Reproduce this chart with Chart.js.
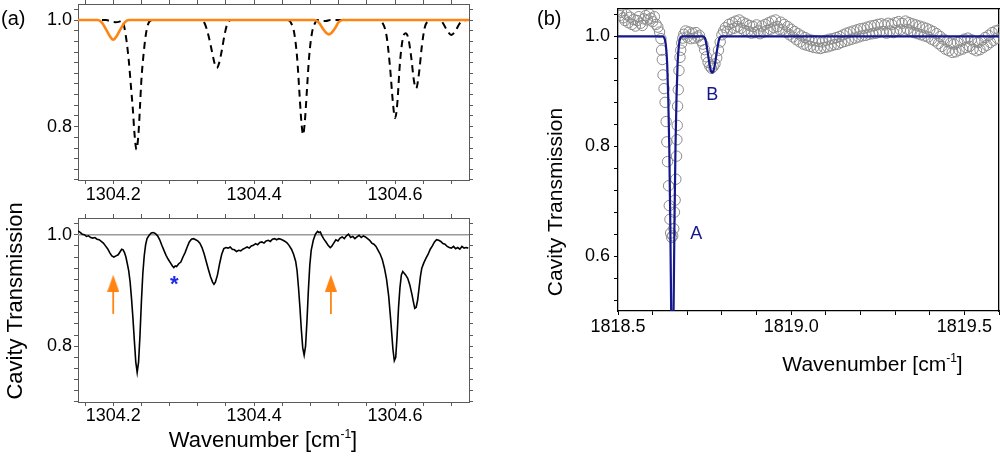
<!DOCTYPE html>
<html><head><meta charset="utf-8">
<script src="https://cdn.jsdelivr.net/npm/chart.js@4.4.0/dist/chart.umd.min.js"></script>
<style>
html,body{margin:0;padding:0;background:#fff;width:1000px;height:456px;overflow:hidden;position:relative}
canvas{position:absolute}
#cA{left:0;top:0}#cB{left:0;top:195px}#cC{left:520px;top:0}
</style></head><body>
<canvas id="cA" width="480" height="215"></canvas>
<canvas id="cB" width="480" height="261"></canvas>
<canvas id="cC" width="480" height="456"></canvas>
<script>
// ---------- DATA ----------
// panel (a) top: simulated spectra [wavenumber, transmission]
const simDashed = [[1304.150,1.000],[1304.190,1.000],[1304.197,0.997],[1304.203,0.996],[1304.209,0.997],[1304.213,0.999],[1304.216,0.985],[1304.219,0.960],[1304.222,0.925],[1304.225,0.878],[1304.228,0.830],[1304.230,0.790],[1304.233,0.757],[1304.236,0.790],[1304.238,0.838],[1304.240,0.888],[1304.243,0.935],[1304.246,0.970],[1304.249,0.990],[1304.253,0.999],[1304.258,1.000],
[1304.325,1.000],[1304.330,0.993],[1304.335,0.972],[1304.340,0.942],[1304.344,0.918],[1304.347,0.910],[1304.350,0.918],[1304.354,0.942],[1304.358,0.972],[1304.362,0.993],[1304.367,1.000],
[1304.448,1.000],[1304.453,0.993],[1304.457,0.975],[1304.461,0.930],[1304.464,0.870],[1304.467,0.810],[1304.4695,0.785],[1304.472,0.810],[1304.475,0.870],[1304.478,0.930],[1304.482,0.975],[1304.486,0.993],[1304.490,1.000],[1304.496,0.998],[1304.502,0.998],[1304.508,1.000],
[1304.575,1.000],[1304.582,0.995],[1304.588,0.970],[1304.593,0.910],[1304.597,0.845],[1304.600,0.816],[1304.603,0.840],[1304.607,0.920],[1304.611,0.965],[1304.615,0.975],[1304.619,0.965],[1304.623,0.930],[1304.627,0.885],[1304.630,0.872],[1304.634,0.900],[1304.638,0.950],[1304.642,0.985],[1304.647,0.998],[1304.652,1.000],
[1304.664,1.000],[1304.669,0.992],[1304.674,0.980],[1304.680,0.972],[1304.686,0.980],[1304.691,0.992],[1304.696,0.999],[1304.705,1.000]];
const simOrange = [[1304.150,1.000],[1304.178,1.000],[1304.184,0.995],[1304.190,0.982],[1304.195,0.970],[1304.200,0.963],[1304.205,0.970],[1304.210,0.982],[1304.216,0.995],[1304.222,1.000],
[1304.485,1.000],[1304.492,0.995],[1304.498,0.983],[1304.503,0.975],[1304.506,0.973],[1304.510,0.976],[1304.515,0.985],[1304.520,0.996],[1304.526,1.000],[1304.705,1.000]];
// panel (a) bottom: measured cavity transmission
const measured = [[1304.150,1.007],[1304.153,1.004],[1304.156,1.001],[1304.159,1.000],[1304.162,0.997],[1304.165,0.998],[1304.168,0.995],[1304.171,0.994],[1304.174,0.995],[1304.177,0.992],[1304.180,0.991],[1304.183,0.988],[1304.186,0.985],[1304.189,0.980],[1304.192,0.975],[1304.195,0.968],[1304.198,0.962],[1304.201,0.960],[1304.204,0.962],[1304.207,0.964],[1304.210,0.970],[1304.212,0.974],[1304.214,0.973],[1304.216,0.968],[1304.218,0.960],[1304.220,0.948],[1304.222,0.935],[1304.224,0.915],[1304.226,0.885],[1304.228,0.850],[1304.230,0.810],[1304.232,0.772],[1304.234,0.753],[1304.236,0.772],[1304.238,0.820],[1304.240,0.880],[1304.242,0.930],[1304.244,0.962],[1304.246,0.982],[1304.248,0.993],[1304.251,0.999],[1304.254,1.003],[1304.257,1.004],[1304.260,1.002],[1304.263,0.998],[1304.266,0.991],[1304.269,0.981],[1304.272,0.972],[1304.275,0.963],[1304.278,0.956],[1304.281,0.950],[1304.284,0.944],[1304.286,0.941],[1304.288,0.944],[1304.290,0.943],[1304.293,0.948],[1304.296,0.951],[1304.299,0.960],[1304.302,0.968],[1304.305,0.978],[1304.308,0.987],[1304.311,0.992],[1304.314,0.993],[1304.317,0.991],[1304.320,0.989],[1304.323,0.985],[1304.326,0.977],[1304.329,0.966],[1304.332,0.952],[1304.335,0.938],[1304.338,0.925],[1304.341,0.915],[1304.343,0.911],[1304.345,0.915],[1304.348,0.928],[1304.351,0.948],[1304.354,0.965],[1304.357,0.975],[1304.360,0.977],[1304.363,0.976],[1304.366,0.978],[1304.369,0.974],[1304.372,0.973],[1304.375,0.970],[1304.378,0.972],[1304.381,0.971],[1304.384,0.974],[1304.387,0.976],[1304.390,0.978],[1304.393,0.976],[1304.396,0.980],[1304.399,0.981],[1304.402,0.984],[1304.405,0.982],[1304.408,0.986],[1304.411,0.987],[1304.414,0.985],[1304.417,0.989],[1304.420,0.990],[1304.423,0.988],[1304.426,0.992],[1304.429,0.993],[1304.432,0.991],[1304.435,0.993],[1304.438,0.992],[1304.441,0.990],[1304.444,0.988],[1304.447,0.985],[1304.450,0.980],[1304.453,0.974],[1304.456,0.965],[1304.459,0.952],[1304.461,0.935],[1304.463,0.905],[1304.465,0.870],[1304.467,0.830],[1304.469,0.797],[1304.471,0.784],[1304.473,0.800],[1304.475,0.845],[1304.477,0.900],[1304.479,0.945],[1304.481,0.972],[1304.484,0.990],[1304.487,1.001],[1304.490,1.006],[1304.492,1.004],[1304.494,1.005],[1304.496,0.999],[1304.499,0.992],[1304.502,0.987],[1304.505,0.981],[1304.508,0.977],[1304.510,0.979],[1304.513,0.985],[1304.516,0.991],[1304.519,0.989],[1304.522,0.994],[1304.525,0.996],[1304.528,0.993],[1304.531,0.998],[1304.534,1.001],[1304.537,0.995],[1304.540,0.997],[1304.543,0.993],[1304.546,0.996],[1304.549,0.999],[1304.552,0.995],[1304.555,0.998],[1304.558,0.996],[1304.561,0.993],[1304.564,0.990],[1304.567,0.985],[1304.570,0.983],[1304.573,0.979],[1304.576,0.972],[1304.579,0.965],[1304.582,0.955],[1304.585,0.940],[1304.588,0.920],[1304.591,0.890],[1304.594,0.845],[1304.597,0.795],[1304.599,0.774],[1304.601,0.780],[1304.603,0.820],[1304.605,0.870],[1304.607,0.905],[1304.609,0.928],[1304.611,0.934],[1304.613,0.931],[1304.615,0.928],[1304.618,0.922],[1304.621,0.910],[1304.624,0.893],[1304.626,0.880],[1304.628,0.868],[1304.630,0.870],[1304.632,0.882],[1304.634,0.903],[1304.636,0.925],[1304.638,0.940],[1304.641,0.950],[1304.644,0.958],[1304.647,0.965],[1304.650,0.974],[1304.653,0.980],[1304.656,0.987],[1304.659,0.991],[1304.662,0.990],[1304.665,0.988],[1304.668,0.984],[1304.671,0.983],[1304.674,0.979],[1304.677,0.977],[1304.680,0.976],[1304.683,0.979],[1304.686,0.975],[1304.689,0.977],[1304.692,0.974],[1304.695,0.979],[1304.698,0.976],[1304.701,0.977],[1304.704,0.976]];
const baseline = [[1304.150,1.0],[1304.705,1.0]];
const arrowX = [1304.200, 1304.509];
const arrowTail = 0.858, arrowHead = 0.913;
const starMark = {x:1304.2868, y:0.921};
// panel (b): measured points and fit
const bPoints = [[1818.500,1.046],[1818.505,1.038],[1818.510,1.044],[1818.515,1.034],[1818.520,1.029],[1818.525,1.040],[1818.530,1.025],[1818.535,1.035],[1818.540,1.022],[1818.545,1.031],[1818.550,1.019],[1818.555,1.029],[1818.560,1.036],[1818.565,1.024],[1818.570,1.020],[1818.575,1.032],[1818.580,1.038],[1818.585,1.030],[1818.590,1.041],[1818.595,1.033],[1818.600,1.027],[1818.605,1.036],[1818.610,1.022],[1818.615,1.017],[1818.620,1.008],
[1818.624,0.996],[1818.626,0.975],[1818.628,0.958],[1818.630,0.930],[1818.633,0.905],[1818.636,0.880],[1818.639,0.845],[1818.641,0.808],[1818.643,0.772],[1818.646,0.728],[1818.648,0.692],[1818.650,0.667],[1818.652,0.642],[1818.655,0.634],[1818.658,0.637],[1818.661,0.650],[1818.663,0.680],[1818.665,0.702],[1818.667,0.740],[1818.669,0.782],[1818.670,0.812],[1818.671,0.838],[1818.672,0.873],[1818.674,0.903],[1818.676,0.938],[1818.679,0.962],[1818.681,0.975],[1818.684,0.988],[1818.687,0.997],[1818.690,1.004],
[1818.695,1.010],[1818.700,0.999],[1818.705,1.008],[1818.710,0.996],[1818.715,1.006],[1818.720,0.997],[1818.725,1.007],[1818.730,0.999],[1818.735,1.002],[1818.740,0.992],[1818.745,0.986],[1818.750,0.976],[1818.755,0.963],[1818.760,0.953],[1818.765,0.946],[1818.770,0.942],[1818.775,0.945],[1818.780,0.950],[1818.785,0.961],[1818.790,0.975],[1818.795,0.990],[1818.800,1.003],[1818.805,1.010],[1818.810,1.016],[1818.815,1.009],[1818.820,1.022],[1818.825,1.013],[1818.830,1.025],[1818.835,1.015],[1818.840,1.028],[1818.845,1.018],[1818.850,1.030],[1818.855,1.015],[1818.860,1.026],[1818.865,1.011],[1818.870,1.023],[1818.875,1.009],[1818.880,1.020],[1818.885,1.006],[1818.890,1.018],[1818.895,1.007],[1818.900,1.021],[1818.905,1.010],[1818.910,1.005],[1818.915,1.019],[1818.920,1.008],[1818.925,1.022],[1818.930,1.011],[1818.935,1.025],[1818.940,1.013],[1818.945,1.028],[1818.950,1.016],[1818.955,1.030],[1818.960,1.018],[1818.965,1.013],[1818.970,1.026],[1818.975,1.012],[1818.980,1.022],[1818.985,1.008],[1818.990,1.018],[1818.995,1.003],[1819.000,1.013],[1819.005,0.999],[1819.010,1.009],[1819.015,0.994],[1819.020,1.005],[1819.025,0.990],[1819.030,1.001],[1819.035,0.986],[1819.040,0.998],[1819.045,0.984],[1819.050,0.995],[1819.055,0.982],[1819.060,0.993],[1819.065,0.980],[1819.070,0.992],[1819.075,0.979],[1819.080,0.991],[1819.085,0.978],[1819.090,0.990],[1819.095,0.980],[1819.100,0.993],[1819.105,0.981],[1819.110,0.995],[1819.115,0.983],[1819.120,0.996],[1819.125,0.985],[1819.130,0.998],[1819.135,0.986],[1819.140,1.000],[1819.145,0.989],[1819.150,1.003],[1819.155,0.991],[1819.160,1.006],[1819.165,0.993],[1819.170,1.008],[1819.175,0.995],[1819.180,1.010],[1819.185,0.997],[1819.190,1.012],[1819.195,0.999],[1819.200,1.014],[1819.205,1.001],[1819.210,1.015],[1819.215,1.002],[1819.220,1.017],[1819.225,1.004],[1819.230,1.019],[1819.235,1.005],[1819.240,1.020],[1819.245,1.006],[1819.250,1.022],[1819.255,1.008],[1819.260,1.023],[1819.265,1.009],[1819.270,1.021],[1819.275,1.006],[1819.280,1.024],[1819.285,1.010],[1819.290,1.022],[1819.295,1.007],[1819.300,1.025],[1819.305,1.011],[1819.310,1.027],[1819.315,1.012],[1819.320,1.024],[1819.325,1.009],[1819.330,1.028],[1819.335,1.013],[1819.340,1.025],[1819.345,1.010],[1819.350,1.023],[1819.355,1.007],[1819.360,1.021],[1819.365,1.005],[1819.370,1.019],[1819.375,1.003],[1819.380,1.017],[1819.385,1.001],[1819.390,1.015],[1819.395,0.999],[1819.400,1.012],[1819.405,0.995],[1819.410,1.009],[1819.415,0.992],[1819.420,1.005],[1819.425,0.987],[1819.430,1.000],[1819.435,0.982],[1819.440,0.995],[1819.445,0.977],[1819.450,0.991],[1819.455,0.974],[1819.460,0.988],[1819.465,0.971],[1819.470,0.986],[1819.475,0.972],[1819.480,0.989],[1819.485,0.975],[1819.490,0.992],[1819.495,0.977],[1819.500,0.995],[1819.505,0.980],[1819.510,0.997],[1819.515,0.982],[1819.520,0.994],[1819.525,0.977],[1819.530,0.991],[1819.535,0.974],[1819.540,0.989],[1819.545,0.976],[1819.550,0.993],[1819.555,0.980],[1819.560,0.998],[1819.565,0.984],[1819.570,1.002],[1819.575,0.989],[1819.580,1.007],[1819.585,0.993],[1819.590,1.010],[1819.595,0.997],[1819.600,1.012]];
const bFit = [[1818.500,1.000],[1818.628,1.000],[1818.634,0.997],[1818.638,0.985],[1818.642,0.950],[1818.645,0.890],[1818.648,0.800],[1818.651,0.660],[1818.654,0.470],[1818.657,0.320],[1818.660,0.470],[1818.663,0.660],[1818.666,0.800],[1818.669,0.890],[1818.672,0.950],[1818.676,0.985],[1818.680,0.997],[1818.686,1.000],[1818.745,1.000],[1818.752,0.995],[1818.758,0.975],[1818.764,0.950],[1818.769,0.936],[1818.772,0.934],[1818.775,0.936],[1818.780,0.950],[1818.786,0.975],[1818.792,0.995],[1818.799,1.000],[1819.600,1.000]];
const lineLabels = [{t:'A', x:1818.726, y:0.641},{t:'B', x:1818.772, y:0.894}];
// axis ranges / ticks
const aX = {min:1304.15, max:1304.705, minor:0.04, major:0.2};
const aY = {min:0.70, max:1.03, minor:0.02, major:0.2};
const bX = {min:1818.5, max:1819.6, minor:0.1, major:0.5};
const bY = {min:0.50, max:1.05, minor:0.04, major:0.2};

// ---------- STYLE / HELPERS ----------
const FR = "'Liberation Sans',Arial,Helvetica,sans-serif";
const ORANGE = '#ff8412', NAVY = '#14188c', GRAYF = '#5a5a5a';
const pts = a => a.map(p => ({x:p[0], y:p[1]}));

function mkAxis(pos, rng, labelled, size, color, tickLen, pad, bw){
  const horiz = pos === 'top' || pos === 'bottom';
  return {
    type:'linear', position:pos, axis: horiz ? 'x' : 'y', min:rng.min, max:rng.max,
    afterFit: s => { if (horiz) s.height = size; else s.width = size;
      s.paddingLeft = 0; s.paddingRight = 0; s.paddingTop = 0; s.paddingBottom = 0; },
    ticks:{display:labelled, stepSize:rng.minor, includeBounds:false, autoSkip:false,
      maxRotation:0, minRotation:0, padding:pad, color:'#000', font:{family:FR, size:18},
      callback: v => { const r = v / rng.major; return Math.abs(r - Math.round(r)) < 1e-6 ? v.toFixed(1) : ''; }},
    grid:{display: tickLen > 0, drawOnChartArea:false, drawTicks:true, tickLength:tickLen, color:color, lineWidth:1},
    border:{display:true, color:color, width:bw}
  };
}
function baseOpts(pad, scales){
  return {responsive:false, animation:false, events:[], devicePixelRatio:1,
    layout:{autoPadding:false, padding:pad},
    plugins:{legend:{display:false}, tooltip:{enabled:false}}, scales:scales};
}
function wavTitle(ctx, cx, by, size){
  const a = 'Wavenumber [cm', s = '-1', b = ']';
  ctx.fillStyle = '#000'; ctx.textAlign = 'left'; ctx.textBaseline = 'alphabetic';
  ctx.font = size + 'px ' + FR; const wa = ctx.measureText(a).width, wb = ctx.measureText(b).width;
  const ss = Math.round(size * 0.55);
  ctx.font = ss + 'px ' + FR; const ws = ctx.measureText(s).width;
  let x = cx - (wa + ws + wb) / 2;
  ctx.font = size + 'px ' + FR; ctx.fillText(a, x, by); x += wa;
  ctx.font = ss + 'px ' + FR; ctx.fillText(s, x, by - size * 0.42); x += ws;
  ctx.font = size + 'px ' + FR; ctx.fillText(b, x, by);
}
function vTitle(ctx, bx, cy, size){
  ctx.save(); ctx.translate(bx, cy); ctx.rotate(-Math.PI / 2);
  ctx.fillStyle = '#000'; ctx.textAlign = 'center'; ctx.textBaseline = 'alphabetic';
  ctx.font = size + 'px ' + FR; ctx.fillText('Cavity Transmission', 0, 0); ctx.restore();
}
function panelLetter(ctx, t, x, y){
  ctx.fillStyle = '#000'; ctx.textAlign = 'left'; ctx.textBaseline = 'middle';
  ctx.font = '20px ' + FR; ctx.fillText(t, x, y);
}

// arrow head image used as point style
const head = document.createElement('canvas'); head.width = 12; head.height = 17;
(function(){ const c = head.getContext('2d'); c.fillStyle = ORANGE; c.beginPath();
  c.moveTo(6, 0); c.lineTo(12, 17); c.lineTo(0, 17); c.closePath(); c.fill(); })();

// ---------- PANEL (a) top ----------
new Chart(document.getElementById('cA'), {
  type:'line',
  data:{datasets:[
    {data:pts(simOrange), borderColor:ORANGE, borderWidth:2.6, pointRadius:0, cubicInterpolationMode:'monotone', order:1},
    {data:pts(simDashed), borderColor:'#000', borderWidth:2, borderDash:[7,5], pointRadius:0, cubicInterpolationMode:'monotone', order:2}
  ]},
  options: baseOpts({left:0, right:11, top:4, bottom:0}, {
    x: mkAxis('bottom', aX, true, 35, GRAYF, 4, 0, 1),
    x2: mkAxis('top', aX, false, 0, GRAYF, 4, 0, 1),
    y: mkAxis('left', aY, true, 78, GRAYF, 4, 2, 1),
    y2: mkAxis('right', aY, false, 0, GRAYF, 4, 0, 1)
  }),
  plugins:[{id:'txtA', afterDraw(c){ const ctx = c.ctx; ctx.save(); panelLetter(ctx, '(a)', 1, 19); ctx.restore(); }}]
});

// ---------- PANEL (a) bottom ----------
const arrowSets = arrowX.map(ax => ({
  data:[{x:ax, y:arrowTail}, {x:ax, y:arrowHead}], borderColor:ORANGE, borderWidth:1.8,
  pointStyle: c => c.dataIndex === 1 ? head : 'circle', pointRadius: c => c.dataIndex === 1 ? 6 : 0, order:0
}));
new Chart(document.getElementById('cB'), {
  type:'line',
  data:{datasets:[
    {data:pts(measured), borderColor:'#000', borderWidth:1.6, pointRadius:0, order:1},
    {data:pts(baseline), borderColor:'#9a9a9a', borderWidth:1.6, pointRadius:0, order:3}
  ].concat(arrowSets)},
  options: baseOpts({left:0, right:11, top:23, bottom:0}, {
    x: mkAxis('bottom', aX, true, 54, GRAYF, 4, -1, 1),
    x2: mkAxis('top', aX, false, 0, GRAYF, 4, 0, 1),
    y: mkAxis('left', aY, true, 78, GRAYF, 4, 2, 1),
    y2: mkAxis('right', aY, false, 0, GRAYF, 4, 0, 1)
  }),
  plugins:[{id:'txtB', afterDraw(c){
    const ctx = c.ctx; ctx.save();
    const sx = c.scales.x, sy = c.scales.y;
    ctx.fillStyle = '#1f2ae6'; ctx.font = 'bold 22px ' + FR; ctx.textAlign = 'center'; ctx.textBaseline = 'alphabetic';
    ctx.fillText('*', sx.getPixelForValue(starMark.x), sy.getPixelForValue(starMark.y) + 12.5);
    vTitle(ctx, 21.5, 106, 22);
    wavTitle(ctx, 263, 252, 22);
    ctx.restore(); }}]
});

// ---------- PANEL (b) ----------
new Chart(document.getElementById('cC'), {
  type:'line',
  data:{datasets:[
    {data:pts(bFit), borderColor:NAVY, borderWidth:2.2, pointRadius:0, cubicInterpolationMode:'monotone', order:1},
    {data:pts(bPoints), showLine:false, pointStyle:'circle', pointRadius:5.2, pointBorderWidth:1,
     pointBorderColor:'#8a8a8a', pointBackgroundColor:'rgba(255,255,255,0)', order:2}
  ]},
  options: baseOpts({left:0, right:1, top:9, bottom:0}, {
    x: mkAxis('bottom', bX, true, 145, '#000', 4, 1, 1.3),
    x2: mkAxis('top', bX, false, 0, '#000', 0, 0, 1.3),
    y: mkAxis('left', bY, true, 98, '#000', 4, 4, 1.3),
    y2: mkAxis('right', bY, false, 0, '#000', 0, 0, 1.3)
  }),
  plugins:[{id:'txtC', afterDraw(c){
    const ctx = c.ctx; ctx.save();
    const sx = c.scales.x, sy = c.scales.y;
    panelLetter(ctx, '(b)', 17, 19);
    ctx.fillStyle = NAVY; ctx.font = '18px ' + FR; ctx.textAlign = 'center'; ctx.textBaseline = 'middle';
    lineLabels.forEach(l => ctx.fillText(l.t, sx.getPixelForValue(l.x), sy.getPixelForValue(l.y)));
    vTitle(ctx, 42, 202, 21);
    wavTitle(ctx, 352.5, 371, 21);
    ctx.restore(); }}]
});
</script>
</body></html>
